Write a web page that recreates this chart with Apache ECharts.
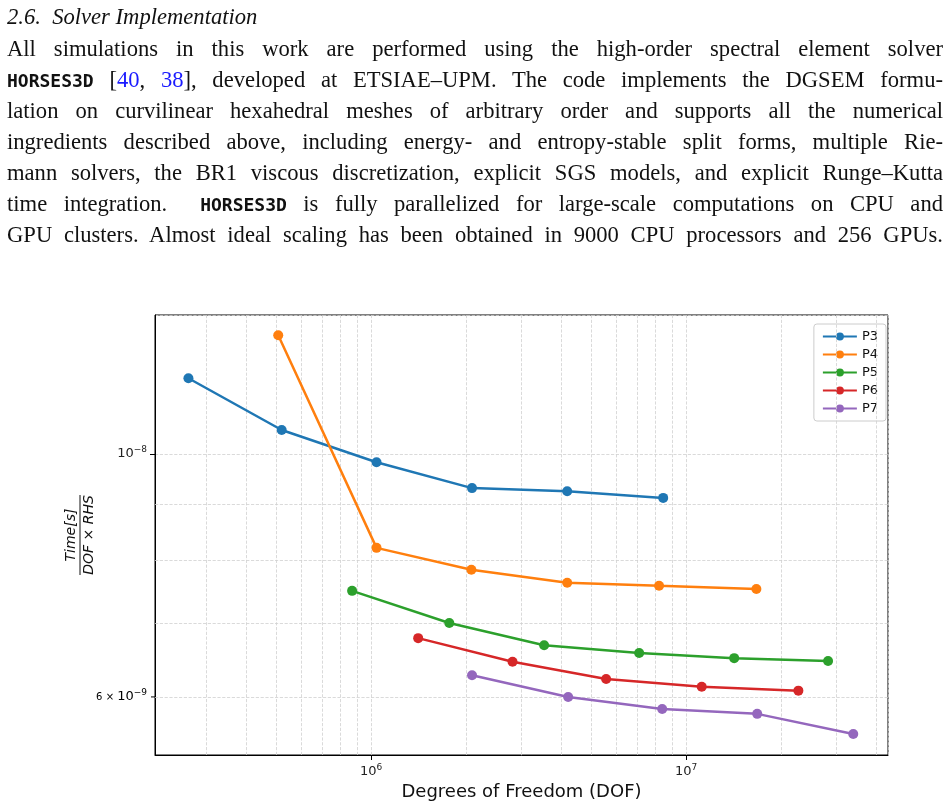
<!DOCTYPE html>
<html><head><meta charset="utf-8">
<script src="https://cdn.jsdelivr.net/npm/echarts@6/dist/echarts.min.js"></script>
<style>
body{margin:0;width:948px;height:807px;background:#fff;overflow:hidden;position:relative}
#txt{position:absolute;left:7px;top:2px;width:936px;font-family:"Liberation Serif","DejaVu Serif",serif;font-size:22.6px;color:#111}
.l{text-align:justify;text-align-last:justify;height:31px;line-height:31px;white-space:nowrap}
.h{font-style:italic;height:30px;line-height:30px;margin-bottom:1px}
.m{font-family:"DejaVu Sans Mono",monospace;font-weight:bold;font-size:18px}
.c{color:#1a1aff}
#chart{position:absolute;left:0;top:0;width:948px;height:807px}
</style></head><body>
<div id="chart"></div>
<div id="txt">
<div class="h">2.6.&nbsp; Solver Implementation</div>
<div class="l">All simulations in this work are performed using the high-order spectral element solver</div>
<div class="l"><span class="m">HORSES3D</span> [<span class="c">40</span>, <span class="c">38</span>], developed at ETSIAE–UPM. The code implements the DGSEM formu-</div>
<div class="l">lation on curvilinear hexahedral meshes of arbitrary order and supports all the numerical</div>
<div class="l">ingredients described above, including energy- and entropy-stable split forms, multiple Rie-</div>
<div class="l">mann solvers, the BR1 viscous discretization, explicit SGS models, and explicit Runge–Kutta</div>
<div class="l">time integration. &nbsp;<span class="m">HORSES3D</span> is fully parallelized for large-scale computations on CPU and</div>
<div class="l">GPU clusters. Almost ideal scaling has been obtained in 9000 CPU processors and 256 GPUs.</div>
</div>
<script>
const seriesNames = ['P3','P4','P5','P6','P7'];
const colors = ['#1f77b4','#ff7f0e','#2ca02c','#d62728','#9467bd'];
const dofP3 = [2.63e5,5.2e5,1.04e6,2.09e6,4.19e6,8.45e6];
const timeP3 = [1.173e-8,1.052e-8,9.83e-9,9.31e-9,9.25e-9,9.12e-9];
const dofP4 = [5.07e5,1.04e6,2.08e6,4.19e6,8.2e6,1.67e7];
const timeP4 = [1.284e-8,8.21e-9,7.84e-9,7.63e-9,7.58e-9,7.53e-9];
const dofP5 = [8.7e5,1.77e6,3.54e6,7.09e6,1.42e7,2.82e7];
const timeP5 = [7.5e-9,7.01e-9,6.69e-9,6.58e-9,6.51e-9,6.47e-9];
const dofP6 = [1.41e6,2.81e6,5.57e6,1.12e7,2.27e7];
const timeP6 = [6.79e-9,6.46e-9,6.23e-9,6.13e-9,6.08e-9];
const dofP7 = [2.09e6,4.22e6,8.39e6,1.68e7,3.39e7];
const timeP7 = [6.28e-9,6.0e-9,5.85e-9,5.79e-9,5.55e-9];
const xMinorGrid = [3e5,4e5,5e5,6e5,7e5,8e5,9e5,2e6,3e6,4e6,5e6,6e6,7e6,8e6,9e6,2e7,3e7,4e7];
const yMinorGrid = [6e-9,7e-9,8e-9,9e-9];
const yMinorLabel = 6e-9;
const dofs=[dofP3,dofP4,dofP5,dofP6,dofP7], times=[timeP3,timeP4,timeP5,timeP6,timeP7];

const sup = v => { const e=Math.round(Math.log10(v)); return '{b|10}{s|'+(e<0?'−'+(-e):e)+'}'; };
const richT = {b:{fontSize:13,fontFamily:'DejaVu Sans',color:'#222'},s:{fontSize:9,fontFamily:'DejaVu Sans',color:'#222',padding:[0,0,9,0]},
  m:{fontSize:10,fontFamily:'DejaVu Sans',color:'#222'}};
const gridLine = {color:'#d0d0d0',type:'dashed',width:0.8};

const series = seriesNames.map((n,i)=>({
  name:n,type:'line',data:dofs[i].map((x,j)=>[x,times[i][j]]),
  symbol:'circle',symbolSize:10,lineStyle:{width:2.5,color:colors[i]},itemStyle:{color:colors[i]},z:5
}));
series[0].markLine = {silent:true,symbol:'none',animation:false,lineStyle:gridLine,label:{show:false},
  data:xMinorGrid.map(v=>({xAxis:v}))};
series[2].markLine = {silent:true,symbol:'none',animation:false,lineStyle:gridLine,label:{show:false},
  data:yMinorGrid.map(v=>[{coord:[2.06e5,v]},{coord:[4.37e7,v]}])};

const chart = echarts.init(document.getElementById('chart'));
const opt = {
  animation:false,
  grid:{left:155,top:315,right:60,bottom:52,show:true,borderColor:'#000',borderWidth:1,containLabel:false},
  xAxis:{type:'log',min:2.06e5,max:4.37e7,
    name:'Degrees of Freedom (DOF)',nameLocation:'middle',nameGap:28,
    nameTextStyle:{fontSize:18,fontFamily:'DejaVu Sans',color:'#111'},
    axisLine:{lineStyle:{color:'#000'}},axisTick:{show:true,length:5,lineStyle:{color:'#000'}},
    axisLabel:{formatter:sup,rich:richT,showMinLabel:false,showMaxLabel:false,margin:8},
    splitLine:{show:true,lineStyle:gridLine}},
  yAxis:{type:'log',min:5.31e-9,max:1.34e-8,
    axisLine:{lineStyle:{color:'#000'}},axisTick:{show:true,length:5,lineStyle:{color:'#000'}},
    axisLabel:{formatter:sup,rich:richT,showMinLabel:false,showMaxLabel:false,margin:8},
    splitLine:{show:true,lineStyle:gridLine}},
  legend:{orient:'vertical',right:62,top:324,itemGap:5,itemWidth:34,itemHeight:10,
    textStyle:{fontSize:13,fontFamily:'DejaVu Sans',color:'#111'},
    backgroundColor:'#fff',borderColor:'#ccc',borderWidth:1,borderRadius:3,padding:[6,8,6,8],
    data:seriesNames},
  graphic:[{type:'group',x:80,y:535,rotation:Math.PI/2,children:[
    {type:'text',style:{text:'Time[s]',x:0,y:-2,align:'center',verticalAlign:'bottom',font:'italic 14px DejaVu Sans',fill:'#111'}},
    {type:'line',shape:{x1:-40,y1:0,x2:40,y2:0},style:{stroke:'#111',lineWidth:1}},
    {type:'text',style:{text:'DOF × RHS',x:0,y:2,align:'center',verticalAlign:'top',font:'italic 14px DejaVu Sans',fill:'#111'}}
  ]}],
  series
};
chart.setOption(opt);
const p = chart.convertToPixel({gridIndex:0},[2.06e5,yMinorLabel]);
chart.setOption({graphic:[opt.graphic[0],
  {type:'text',x:p[0]-8,y:p[1],style:{text:'{m|6 × }{b|10}{s|−9}',rich:richT,align:'right',verticalAlign:'middle'}},
  {type:'line',shape:{x1:p[0]-4,y1:p[1],x2:p[0],y2:p[1]},style:{stroke:'#000',lineWidth:1}}
]});
</script>
</body></html>
